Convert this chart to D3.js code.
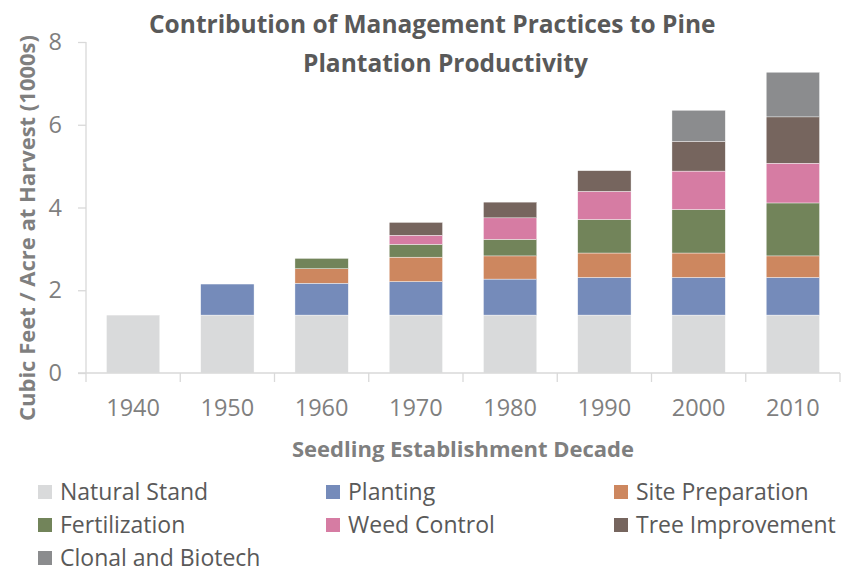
<!DOCTYPE html>
<html>
<head>
<meta charset="utf-8">
<script src="https://cdn.jsdelivr.net/npm/d3@7"></script>
<style>
  html, body { margin: 0; padding: 0; background: #fff; }
  svg { display: block; font-family: 'Open Sans', sans-serif; }
</style>
</head>
<body>
<svg id="canvas"></svg>
<script>
// decades on the x axis
const decades = ['1940', '1950', '1960', '1970', '1980', '1990', '2000', '2010'];
// contribution of each practice, cubic feet / acre (1000s)
const naturalStand = [1.40, 1.40, 1.40, 1.40, 1.40, 1.40, 1.40, 1.40];
const planting = [0, 0.75, 0.77, 0.81, 0.87, 0.91, 0.91, 0.91];
const sitePreparation = [0, 0, 0.35, 0.59, 0.56, 0.59, 0.59, 0.52];
const fertilization = [0, 0, 0.25, 0.31, 0.40, 0.81, 1.05, 1.28];
const weedControl = [0, 0, 0, 0.22, 0.52, 0.68, 0.93, 0.96];
const treeImprovement = [0, 0, 0, 0.31, 0.38, 0.50, 0.72, 1.12];
const clonalBiotech = [0, 0, 0, 0, 0, 0, 0.75, 1.08];
const seriesNames = ['Natural Stand', 'Planting', 'Site Preparation', 'Fertilization',
  'Weed Control', 'Tree Improvement', 'Clonal and Biotech'];
const colors = ['#d9dadb', '#758bba', '#cd875f', '#72845a', '#d67ca3', '#76655e', '#8b8c8e'];
const yTicks = [0, 2, 4, 6, 8];

const w = 855;
const h = 574;
const plotLeft = 86, plotRight = 840, plotTop = 42, plotBottom = 373;

const svg = d3.select('#canvas').attr('width', w).attr('height', h);

// build rows for the stack
const allSeries = [naturalStand, planting, sitePreparation, fertilization, weedControl, treeImprovement, clonalBiotech];
const rows = decades.map((d, i) => {
  const row = { decade: d };
  seriesNames.forEach((name, k) => { row[name] = allSeries[k][i]; });
  return row;
});
const stacked = d3.stack().keys(seriesNames)(rows);

const x = d3.scaleBand().domain(decades).range([plotLeft, plotRight]).paddingInner(0.434).paddingOuter(0.217);
const xEdge = d3.scaleBand().domain(decades).range([plotLeft, plotRight]);
const y = d3.scaleLinear().domain([0, 8]).range([plotBottom, plotTop]);

// title
const title = svg.append('g').attr('fill', '#595959').attr('font-weight', 'bold').attr('font-size', 24.5);
title.append('text').attr('x', 149).attr('y', 33)
  .text('Contribution of Management Practices to Pine');
title.append('text').attr('x', 303).attr('y', 72)
  .text('Plantation Productivity');

// bars
svg.append('g').selectAll('g')
  .data(stacked)
  .enter()
  .append('g')
  .attr('fill', (d, i) => colors[i])
  .selectAll('rect')
  .data(d => d.filter(s => s[1] - s[0] > 0))
  .enter()
  .append('rect')
  .attr('x', d => x(d.data.decade))
  .attr('width', x.bandwidth())
  .attr('y', d => y(d[1]))
  .attr('height', d => y(d[0]) - y(d[1]))
  .attr('stroke', '#ffffff')
  .attr('stroke-width', 0.4);

// y axis
const yAxis = d3.axisLeft(y).tickValues(yTicks).tickSize(8).tickPadding(16).tickFormat(d3.format('d'));
const gy = svg.append('g').attr('transform', 'translate(' + plotLeft + ',0)').call(yAxis);
gy.select('.domain').attr('stroke', '#d9d9d9').attr('stroke-width', 1.3).attr('d', 'M0,' + plotTop + 'V' + plotBottom);
gy.selectAll('.tick line').attr('stroke', '#d9d9d9').attr('stroke-width', 1.3);
gy.selectAll('.tick text').attr('fill', '#7f7f7f').attr('font-size', 23.5).attr('font-family', "'Open Sans', sans-serif");

// x axis: ticks between categories
const gx = svg.append('g').attr('transform', 'translate(0,' + plotBottom + ')');
gx.append('line').attr('x1', plotLeft - 8).attr('x2', plotRight).attr('y1', 0).attr('y2', 0)
  .attr('stroke', '#d9d9d9').attr('stroke-width', 1.3);
gx.selectAll('line.sep')
  .data(decades.concat(['end']))
  .enter()
  .append('line')
  .attr('class', 'sep')
  .attr('x1', (d, i) => i < decades.length ? xEdge(d) : plotRight)
  .attr('x2', (d, i) => i < decades.length ? xEdge(d) : plotRight)
  .attr('y1', 0).attr('y2', 9)
  .attr('stroke', '#d9d9d9').attr('stroke-width', 1.3);
gx.selectAll('text')
  .data(decades)
  .enter()
  .append('text')
  .attr('x', d => x(d) + x.bandwidth() / 2)
  .attr('y', 43)
  .attr('text-anchor', 'middle')
  .attr('fill', '#7f7f7f')
  .attr('font-size', 23.5)
  .text(d => d);

// axis titles
svg.append('text')
  .attr('x', (plotLeft + plotRight) / 2).attr('y', 457)
  .attr('text-anchor', 'middle')
  .attr('fill', '#7f7f7f').attr('font-weight', 'bold').attr('font-size', 22)
  .text('Seedling Establishment Decade');
svg.append('text')
  .attr('transform', 'translate(35,228) rotate(-90)')
  .attr('text-anchor', 'middle')
  .attr('fill', '#7f7f7f').attr('font-weight', 'bold').attr('font-size', 22)
  .text('Cubic Feet / Acre at Harvest (1000s)');

// legend
const legendCols = [38, 326, 614];
const legend = svg.append('g').selectAll('g')
  .data(seriesNames)
  .enter()
  .append('g')
  .attr('transform', (d, i) => 'translate(' + legendCols[i % 3] + ',' + (492 + Math.floor(i / 3) * 33) + ')');
legend.append('rect').attr('x', 0).attr('y', -7).attr('width', 14).attr('height', 14)
  .attr('fill', (d, i) => colors[i]);
legend.append('text').attr('x', 22).attr('y', 8)
  .attr('fill', '#595959').attr('font-size', 23)
  .text(d => d);
</script>
</body>
</html>
